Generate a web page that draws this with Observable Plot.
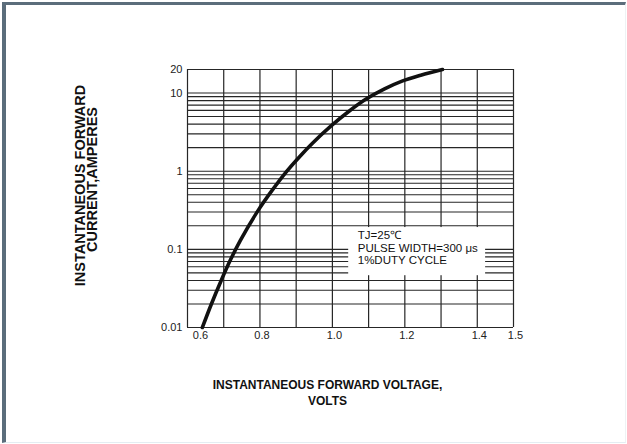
<!DOCTYPE html>
<html><head><meta charset="utf-8">
<script src="https://cdn.jsdelivr.net/npm/d3@7"></script>
<script src="https://cdn.jsdelivr.net/npm/@observablehq/plot@0.6"></script>
<style>
html,body{margin:0;padding:0;background:#fff;}
#wrap{position:relative;width:627px;height:444px;overflow:hidden;background:#fff;}
#frame{position:absolute;left:2px;top:2px;width:624px;height:441px;box-sizing:border-box;border-top:3px solid #5b6d7b;border-left:4px solid #5b6d7b;border-right:1px solid #eef2f4;border-bottom:1px solid #e4edf2;}
#chart{position:absolute;left:0;top:0;}
</style></head><body>
<div id="wrap"><div id="frame"></div><div id="chart"></div></div>
<script>
// Forward voltage (V) and forward current (A)
const voltage = [0.641, 0.666, 0.691, 0.719, 0.746, 0.796, 0.835, 0.871, 0.912, 0.945, 0.998, 1.045, 1.092, 1.144, 1.194, 1.244, 1.304];
const current = [0.01, 0.02, 0.038, 0.074, 0.13, 0.32, 0.58, 0.96, 1.58, 2.28, 3.85, 5.8, 8.3, 11.3, 14.3, 16.9, 20];

const xTicks = [0.8, 1.0, 1.2, 1.4, 1.5];
const xFirstTick = [0.6];
const yTicks = [0.01, 0.1, 1, 10, 20];
const xGrid = [0.6, 0.7, 0.8, 0.9, 1.0, 1.1, 1.2, 1.3, 1.4, 1.5];
const yGrid = [0.01, 0.02, 0.03, 0.04, 0.05, 0.06, 0.07, 0.08, 0.09,
               0.1, 0.2, 0.3, 0.4, 0.5, 0.6, 0.7, 0.8, 0.9,
               1, 2, 3, 4, 5, 6, 7, 8, 9, 10, 20];
const noteLines = ["TJ=25\u2103", "PULSE WIDTH=300 \u03bcs", "1%DUTY CYCLE"];
const xLabel = ["INSTANTANEOUS FORWARD VOLTAGE,", "VOLTS"];
const yLabel = ["INSTANTANEOUS FORWARD", "CURRENT,AMPERES"];

const curve = voltage.map((v, k) => ({v, a: current[k]}));
const gridColor = "#262626";
const font = "'Liberation Sans', Arial, Helvetica, sans-serif";

const plot = Plot.plot({
  width: 627, height: 444,
  marginLeft: 187, marginRight: 114, marginTop: 69, marginBottom: 117,
  style: {background: "transparent", fontFamily: font, color: "#222", overflow: "visible"},
  x: {domain: [0.6, 1.5]},
  y: {type: "log", domain: [0.01, 20]},
  marks: [
    Plot.ruleX(xGrid, {stroke: gridColor, strokeWidth: 1.2}),
    Plot.ruleY(yGrid, {stroke: gridColor, strokeWidth: 1.1}),
    Plot.rect([{}], {x1: 1.045, x2: 1.423, y1: 0.046, y2: 0.19, fill: "white"}),
    Plot.text([noteLines.join("\n")], {x: 1.07, y: 0.105, text: d => d, textAnchor: "start", lineAnchor: "middle", lineHeight: 1.05, fontSize: 11.5, fill: "#111"}),
    Plot.line(curve, {x: "v", y: "a", curve: "monotone-x", stroke: "#111", strokeWidth: 3.6}),
    Plot.axisX(xTicks, {tickSize: 0, tickPadding: 4, dx: 2, fontSize: 11, label: null, tickFormat: d => d.toFixed(1)}),
    Plot.axisX(xFirstTick, {tickSize: 0, tickPadding: 4, dx: 13, fontSize: 11, label: null, tickFormat: d => d.toFixed(1)}),
    Plot.axisY(yTicks, {tickSize: 0, tickPadding: 5, fontSize: 11, label: null, tickFormat: d => String(d)}),
    Plot.text([xLabel[0]], {frameAnchor: "bottom", text: d => d, textAnchor: "middle", dx: -23, dy: 61, fontSize: 12, fontWeight: "bold", fill: "#111"}),
    Plot.text([xLabel[1]], {frameAnchor: "bottom", text: d => d, textAnchor: "middle", dx: -23, dy: 77, fontSize: 12, fontWeight: "bold", fill: "#111"}),
    Plot.text([yLabel[0]], {frameAnchor: "left", text: d => d, textAnchor: "middle", rotate: -90, dx: -107, dy: -13, fontSize: 14.5, fontWeight: "bold", fill: "#111"}),
    Plot.text([yLabel[1]], {frameAnchor: "left", text: d => d, textAnchor: "middle", rotate: -90, dx: -95, dy: -19, fontSize: 14.5, fontWeight: "bold", fill: "#111"})
  ]
});
document.getElementById("chart").appendChild(plot);
</script>
</body></html>
